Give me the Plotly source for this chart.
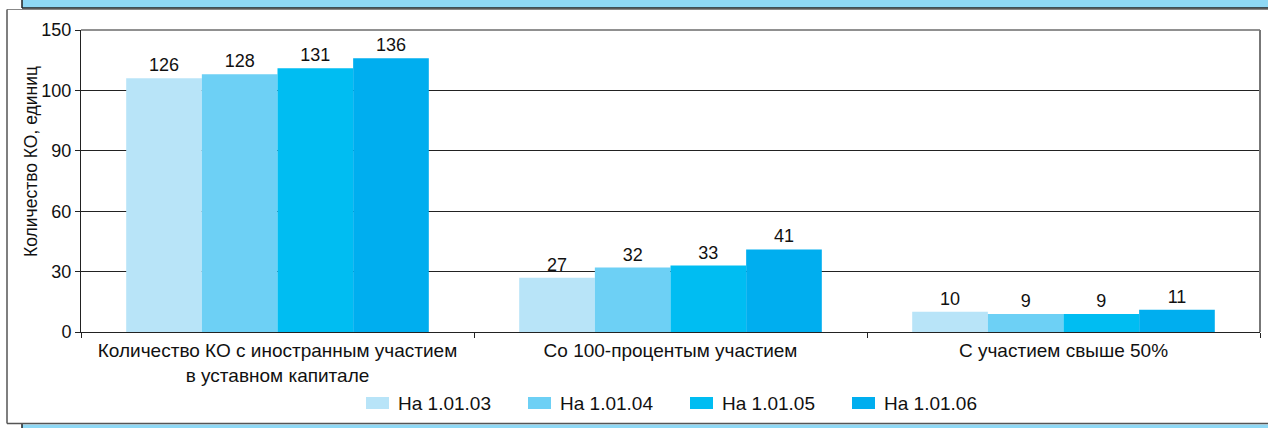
import plotly.graph_objects as go

# Chart data
categories = [
    "Количество КО с иностранным участием<br>в уставном капитале",
    "Со 100-процентым участием",
    "С участием свыше 50%",
]
series_names = ["На 1.01.03", "На 1.01.04", "На 1.01.05", "На 1.01.06"]
values_0103 = [126, 27, 10]
values_0104 = [128, 32, 9]
values_0105 = [131, 33, 9]
values_0106 = [136, 41, 11]
y_tick_values = [0, 30, 60, 90, 120, 150]
y_tick_labels = ["0", "30", "60", "90", "100", "150"]
y_title = "Количество КО, единиц"

colors = ["#B8E4F8", "#6DD0F5", "#00BDF2", "#00AEEF"]
FONT = "Liberation Sans, Arial, sans-serif"
W, H = 1268, 428
L, R, T, B = 81, 8, 30, 96
PW, PH = W - L - R, H - T - B


def px(x):
    return (x - L) / PW


def py(y):
    return (H - B - y) / PH


fig = go.Figure()
for name, vals, col in zip(series_names,
                           [values_0103, values_0104, values_0105, values_0106],
                           colors):
    fig.add_trace(go.Bar(
        x=categories, y=vals, name=name,
        marker=dict(color=col, line=dict(width=0)),
        text=vals, textposition="outside", cliponaxis=False,
        textfont=dict(family=FONT, size=18, color="#111"),
    ))

shapes = [
    # top band
    dict(type="rect", xref="paper", yref="paper", x0=px(22), x1=px(W + 2),
         y0=py(-3), y1=py(8), fillcolor="#8ED8F5", line=dict(width=0), layer="below"),
    dict(type="line", xref="paper", yref="paper", x0=px(22), x1=px(W + 2),
         y0=py(8), y1=py(8), line=dict(color="#222", width=1.5)),
    dict(type="line", xref="paper", yref="paper", x0=px(22), x1=px(22),
         y0=py(-3), y1=py(8), line=dict(color="#222", width=1.5)),
    # bottom band
    dict(type="rect", xref="paper", yref="paper", x0=px(22), x1=px(W + 2),
         y0=py(424.5), y1=py(H + 3), fillcolor="#8ED8F5", line=dict(width=0), layer="below"),
    dict(type="line", xref="paper", yref="paper", x0=px(22), x1=px(22),
         y0=py(424), y1=py(H + 3), line=dict(color="#222", width=1.5)),
    # card border
    dict(type="line", xref="paper", yref="paper", x0=px(7), x1=px(W + 2),
         y0=py(9.5), y1=py(9.5), line=dict(color="#888", width=1)),
    dict(type="line", xref="paper", yref="paper", x0=px(7), x1=px(7),
         y0=py(9.5), y1=py(423.5), line=dict(color="#555", width=1.5)),
    dict(type="line", xref="paper", yref="paper", x0=px(7), x1=px(W + 2),
         y0=py(423.5), y1=py(423.5), line=dict(color="#555", width=1.5)),
    # plot frame top and right
    dict(type="line", xref="paper", yref="paper", x0=0, x1=1, y0=1, y1=1,
         line=dict(color="#222", width=1)),
    dict(type="line", xref="paper", yref="paper", x0=1, x1=1, y0=0, y1=1,
         line=dict(color="#777", width=2)),
]

annotations = [dict(text=y_title, textangle=-90, xref="paper", yref="paper",
                    x=px(31), y=py(162), showarrow=False,
                    font=dict(family=FONT, size=17.5, color="#111"),
                    xanchor="center", yanchor="middle")]

# legend row: wide swatch followed by the series name
LEG_X0, LEG_STEP, LEG_Y = 366, 162, 403
for i, (name, col) in enumerate(zip(series_names, colors)):
    x0 = LEG_X0 + i * LEG_STEP
    shapes.append(dict(type="rect", xref="paper", yref="paper",
                       x0=px(x0), x1=px(x0 + 23), y0=py(LEG_Y - 6), y1=py(LEG_Y + 6),
                       fillcolor=col, line=dict(width=0)))
    annotations.append(dict(text=name, xref="paper", yref="paper",
                            x=px(x0 + 30), y=py(LEG_Y), showarrow=False,
                            xanchor="left", yanchor="middle",
                            font=dict(family=FONT, size=19, color="#111")))

fig.update_layout(
    width=W, height=H,
    margin=dict(l=L, r=R, t=T, b=B, pad=0),
    paper_bgcolor="white", plot_bgcolor="white",
    barmode="group", bargap=0.23, bargroupgap=0,
    font=dict(family=FONT, size=17, color="#111"),
    showlegend=False,
    shapes=shapes,
    annotations=annotations,
)
fig.update_xaxes(
    showline=True, linecolor="#222", linewidth=1,
    ticks="outside", tickson="boundaries", ticklen=5, tickcolor="#222",
    tickfont=dict(family=FONT, size=19, color="#111"),
    ticklabelstandoff=1,
    showgrid=False,
)
fig.update_yaxes(
    range=[0, 150], tickmode="array", tickvals=y_tick_values, ticktext=y_tick_labels,
    showline=True, linecolor="#222", linewidth=1,
    ticks="outside", ticklen=5, tickcolor="#222",
    showgrid=True, gridcolor="#222", gridwidth=1,
    tickfont=dict(family=FONT, size=18, color="#111"),
    zeroline=False,
)

fig.write_html("out.html")
